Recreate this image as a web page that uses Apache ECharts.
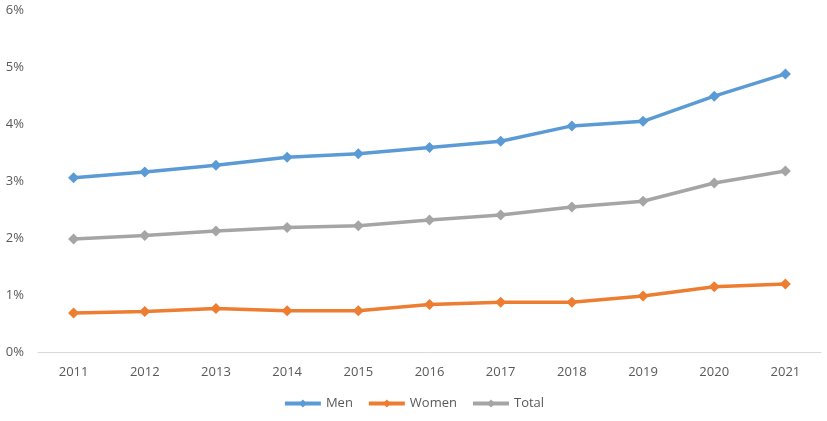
<!DOCTYPE html>
<html>
<head>
<meta charset="utf-8">
<script src="https://cdn.jsdelivr.net/npm/echarts@6/dist/echarts.min.js"></script>
<style>
html,body{margin:0;padding:0;background:#fff;}
#chart{width:827px;height:421px;}
</style>
</head>
<body>
<div id="chart"></div>
<script>
var years = ['2011','2012','2013','2014','2015','2016','2017','2018','2019','2020','2021'];
var men = [3.06, 3.16, 3.28, 3.42, 3.48, 3.59, 3.70, 3.97, 4.05, 4.49, 4.88];
var women = [0.69, 0.72, 0.77, 0.73, 0.73, 0.84, 0.88, 0.88, 0.99, 1.15, 1.20];
var total = [1.99, 2.05, 2.13, 2.19, 2.22, 2.32, 2.41, 2.55, 2.65, 2.97, 3.18];

var chart = echarts.init(document.getElementById('chart'), null, {renderer:'canvas'});
var font = 'Open Sans';
function mk(name, data, color){
  return {
    name: name, type: 'line', data: data,
    symbol: 'diamond', symbolSize: 11,
    lineStyle: {width: 3.5, color: color},
    itemStyle: {color: color},
    emphasis: {disabled: true},
    animation: false
  };
}
chart.setOption({
  animation: false,
  grid: {left: 38, right: 6, top: 10, bottom: 68.5, containLabel: false},
  legend: {
    bottom: 6, left: 'center',
    itemWidth: 36, itemHeight: 10, itemGap: 14,
    lineStyle: {width: 4},
    textStyle: {color: '#595959', fontSize: 13, fontFamily: font},
    data: ['Men','Women','Total']
  },
  xAxis: {
    type: 'category', data: years, boundaryGap: true,
    axisLine: {lineStyle: {color: '#d9d9d9', width: 1}},
    axisTick: {show: false},
    axisLabel: {color: '#595959', fontSize: 13, fontFamily: font, margin: 13}
  },
  yAxis: {
    type: 'value', min: 0, max: 6, interval: 1,
    axisLine: {show: false}, axisTick: {show: false},
    splitLine: {show: false},
    axisLabel: {color: '#595959', fontSize: 13, fontFamily: font, margin: 14, formatter: '{value}%'}
  },
  series: [mk('Men', men, '#5B9BD5'), mk('Women', women, '#ED7D31'), mk('Total', total, '#A5A5A5')]
});
</script>
</body>
</html>
